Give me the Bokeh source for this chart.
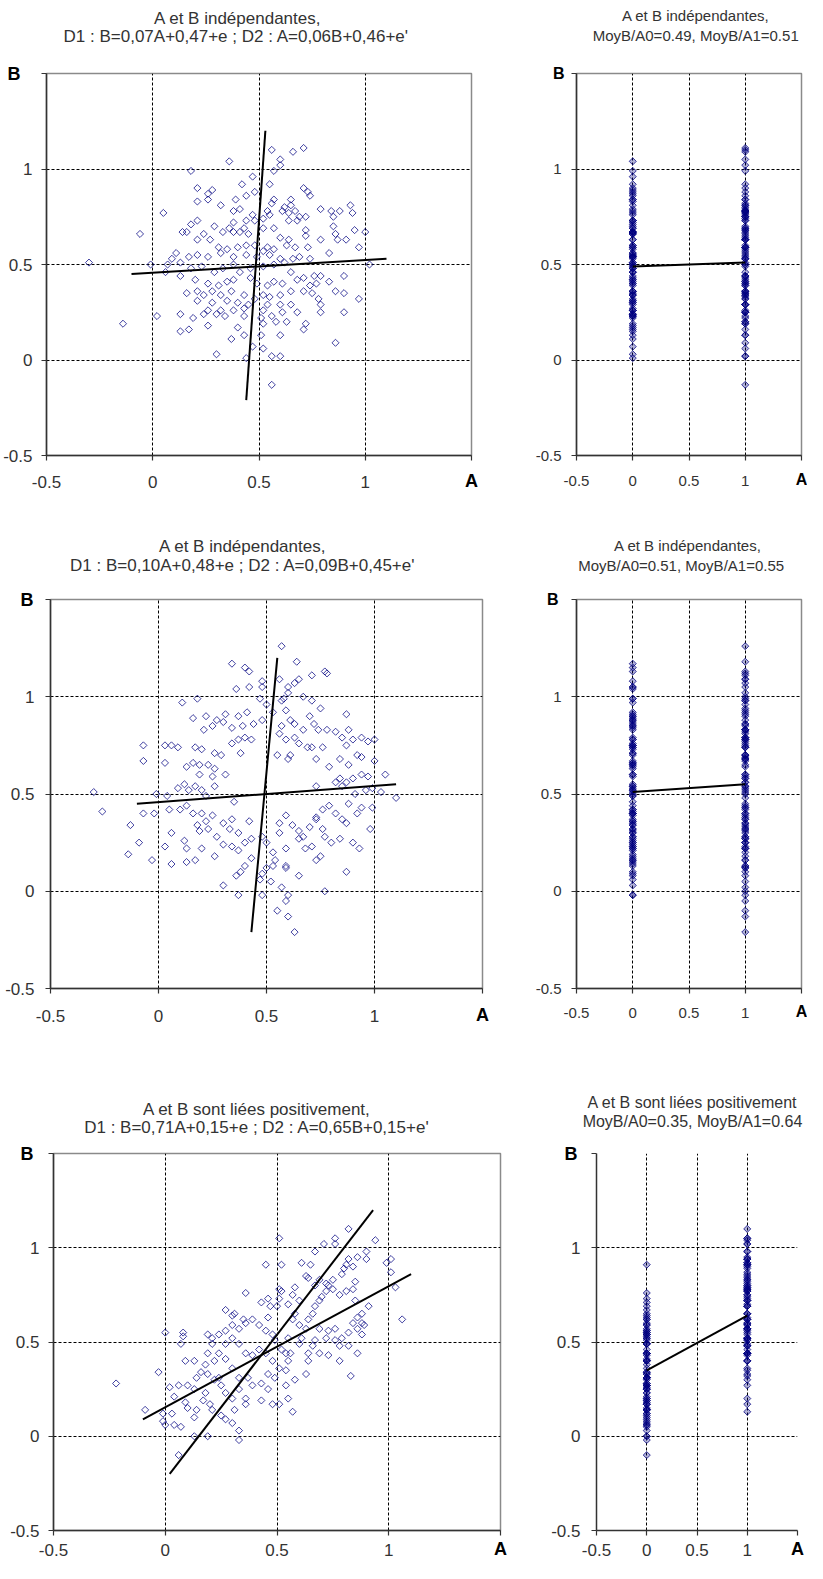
import numpy as np
from bokeh.plotting import figure
from bokeh.layouts import column, row
from bokeh.models import FixedTicker, LinearAxis
from bokeh.embed import file_html
from bokeh.resources import INLINE

FONT = "Liberation Sans"
TXT = "#333333"
NAVY = "#000080"

# ---------------- data ----------------
titles = [
    ["A et B indépendantes,", "D1 : B=0,07A+0,47+e ; D2 : A=0,06B+0,46+e'"],
    ["A et B indépendantes,", "MoyB/A0=0.49, MoyB/A1=0.51"],
    ["A et B indépendantes,", "D1 : B=0,10A+0,48+e ; D2 : A=0,09B+0,45+e'"],
    ["A et B indépendantes,", "MoyB/A0=0.51, MoyB/A1=0.55"],
    ["A et B sont liées positivement,", "D1 : B=0,71A+0,15+e ; D2 : A=0,65B+0,15+e'"],
    ["A et B sont liées positivement", "MoyB/A0=0.35, MoyB/A1=0.64"],
]
tick_values = [-0.5, 0, 0.5, 1, 1.5]
tick_labels = ["-0.5", "0", "0.5", "1", ""]
grid_values = [0, 0.5, 1]
x_name = "A"
y_name = "B"
split_at = 0.5   # the right-hand panels show the same B values with A coded 0 / 1

p1_a = [0.56,0.66,0.71,0.36,0.60,0.60,0.57,0.18,0.47,0.55,0.42,0.21,0.28,0.26,0.48,0.71,0.73,0.74,0.21,0.26,
        0.44,0.39,0.32,0.57,0.65,0.56,0.62,0.65,0.61,0.67,0.64,0.54,0.55,0.38,0.41,0.05,0.47,0.79,0.84,0.88,
        0.93,0.85,0.94,0.52,0.48,0.38,0.44,0.21,0.18,0.29,0.43,0.36,0.69,0.68,0.72,0.64,-0.06,0.14,0.16,0.24,
        0.21,0.33,0.38,0.41,0.45,0.52,0.57,0.60,0.64,0.72,0.72,0.85,0.86,0.87,0.91,0.95,1.00,0.97,0.27,0.31,
        0.35,0.40,0.44,0.48,0.54,0.57,0.63,0.67,0.73,0.79,0.83,0.74,0.69,0.60,0.55,0.52,0.49,0.44,0.38,0.32,
        0.26,0.21,0.17,0.11,0.09,0.07,0.13,-0.30,-0.01,0.06,0.13,0.18,0.23,0.29,0.33,0.38,0.41,0.46,0.52,0.57,
        0.62,0.66,0.65,0.68,0.71,0.76,0.79,0.83,0.90,1.02,0.20,0.26,0.31,0.35,0.38,0.46,0.49,0.54,0.57,0.61,
        0.74,0.77,0.16,0.21,0.24,0.28,0.32,0.37,0.43,0.48,0.52,0.55,0.60,0.65,0.71,0.75,0.86,0.90,0.97,0.21,
        0.28,0.35,0.40,0.45,0.54,0.60,0.65,0.78,0.79,0.26,0.32,0.38,0.43,0.52,0.61,0.68,0.79,0.90,-0.14,0.02,
        0.13,0.19,0.24,0.30,0.34,0.43,0.51,0.56,0.63,0.26,0.13,0.17,0.40,0.52,0.58,0.72,0.71,0.37,0.43,0.51,
        0.60,0.86,0.30,0.47,0.52,0.56,0.60,0.44,0.56]
p1_b = [1.10,1.09,1.11,1.04,1.05,1.02,0.99,0.99,0.96,0.92,0.92,0.90,0.89,0.87,0.88,0.90,0.88,0.86,0.83,0.84,
        0.86,0.84,0.81,0.84,0.84,0.82,0.80,0.81,0.78,0.78,0.77,0.78,0.76,0.78,0.79,0.77,0.76,0.79,0.78,0.78,
        0.81,0.75,0.77,0.74,0.73,0.72,0.73,0.73,0.71,0.70,0.69,0.69,0.75,0.73,0.75,0.73,0.66,0.67,0.67,0.66,
        0.63,0.67,0.67,0.67,0.66,0.69,0.69,0.64,0.63,0.68,0.65,0.70,0.66,0.63,0.63,0.68,0.67,0.59,0.63,0.59,
        0.58,0.59,0.60,0.60,0.59,0.58,0.60,0.59,0.59,0.63,0.56,0.53,0.54,0.53,0.55,0.57,0.54,0.55,0.54,0.56,
        0.54,0.55,0.54,0.56,0.53,0.50,0.51,0.51,0.50,0.46,0.44,0.48,0.49,0.46,0.48,0.50,0.46,0.48,0.49,0.50,
        0.51,0.53,0.46,0.42,0.43,0.44,0.44,0.41,0.44,0.50,0.42,0.40,0.39,0.41,0.42,0.43,0.40,0.39,0.41,0.40,
        0.39,0.40,0.35,0.36,0.34,0.36,0.34,0.36,0.34,0.32,0.34,0.33,0.34,0.36,0.36,0.35,0.36,0.35,0.32,0.31,
        0.30,0.31,0.30,0.29,0.29,0.29,0.29,0.32,0.29,0.26,0.26,0.26,0.27,0.26,0.25,0.25,0.25,0.25,0.19,0.23,
        0.24,0.22,0.24,0.24,0.23,0.23,0.22,0.23,0.20,0.18,0.15,0.16,0.17,0.19,0.20,0.19,0.16,0.11,0.13,0.13,
        0.13,0.09,0.03,0.07,0.06,0.02,0.02,0.01,-0.13]
p1_d1_a = [-0.10, 1.10]
p1_d1_b = [0.45, 0.53]
p1_d2_a = [0.44, 0.53]
p1_d2_b = [-0.21, 1.20]
p2_mean_a = [0, 1]
p2_mean_b = [0.49, 0.51]

p3_a = [0.57,0.64,0.34,0.40,0.42,0.77,0.78,0.71,0.65,0.48,0.48,0.36,0.42,0.56,0.60,0.63,0.60,0.67,0.58,0.57,
        0.50,0.47,0.18,0.11,0.71,0.75,0.59,0.53,0.41,0.37,0.31,0.27,0.22,0.16,0.48,0.44,0.39,0.34,0.30,0.25,
        0.21,0.61,0.63,0.67,0.72,0.74,0.70,0.87,0.88,0.57,0.56,0.59,0.63,0.65,0.69,0.71,0.76,0.78,0.82,0.85,
        0.87,0.90,0.94,1.00,0.97,-0.07,0.03,0.06,0.09,0.17,0.20,0.26,0.29,0.34,0.37,0.40,0.43,0.38,0.55,0.61,
        0.60,0.73,0.79,0.84,0.88,0.92,0.94,-0.07,0.03,0.13,0.16,0.19,0.23,0.26,0.31,0.19,0.25,1.00,1.05,0.84,
        0.87,0.90,0.94,0.97,0.73,0.82,0.85,0.91,0.96,0.99,1.03,1.10,-0.30,-0.01,0.04,0.09,0.12,0.14,0.17,0.20,
        0.22,0.26,0.35,-0.26,-0.13,-0.09,-0.14,-0.07,-0.02,0.05,0.10,0.13,0.16,0.20,0.25,0.30,0.34,0.42,0.33,
        0.37,0.43,0.22,0.18,0.19,0.23,0.27,0.06,0.12,0.13,0.03,-0.03,0.06,0.13,0.17,0.20,0.26,0.30,0.34,0.37,
        0.40,0.43,0.48,0.50,0.53,0.56,0.59,0.54,0.59,0.65,0.65,0.68,0.71,0.73,0.75,0.59,0.53,0.50,0.48,0.52,
        0.47,0.40,0.38,0.36,0.30,0.37,0.48,0.57,0.60,0.59,0.77,0.87,0.70,0.73,0.76,0.79,0.82,0.85,0.88,0.92,
        0.94,0.99,0.98,0.90,0.93,0.77,0.80,0.84,0.87,0.76,0.73,0.62,0.65,0.67,0.59,0.56,0.63,0.60,0.55]
p3_b = [1.26,1.18,1.17,1.15,1.13,1.13,1.12,1.11,1.09,1.08,1.05,1.04,1.05,1.09,1.05,1.07,1.02,1.00,0.99,0.98,
        0.96,0.99,0.99,0.97,0.98,0.94,0.93,0.92,0.92,0.90,0.91,0.88,0.90,0.89,0.88,0.86,0.85,0.84,0.87,0.85,
        0.83,0.88,0.86,0.83,0.86,0.83,0.90,0.91,0.83,0.85,0.81,0.78,0.79,0.76,0.74,0.74,0.74,0.83,0.82,0.79,
        0.75,0.78,0.79,0.78,0.77,0.75,0.75,0.75,0.74,0.74,0.73,0.71,0.70,0.76,0.78,0.79,0.78,0.71,0.70,0.70,
        0.68,0.68,0.64,0.68,0.65,0.70,0.69,0.67,0.66,0.64,0.66,0.65,0.65,0.63,0.60,0.60,0.59,0.67,0.60,0.58,
        0.56,0.58,0.60,0.59,0.54,0.56,0.54,0.50,0.52,0.53,0.51,0.48,0.51,0.50,0.49,0.53,0.55,0.52,0.54,0.52,
        0.49,0.54,0.46,0.41,0.34,0.25,0.19,0.40,0.40,0.42,0.42,0.44,0.40,0.40,0.39,0.35,0.37,0.36,0.32,0.30,
        0.27,0.36,0.34,0.31,0.32,0.28,0.30,0.26,0.22,0.23,0.16,0.14,0.15,0.16,0.22,0.18,0.24,0.23,0.21,0.25,
        0.17,0.28,0.25,0.20,0.30,0.22,0.16,0.13,0.08,0.27,0.22,0.23,0.16,0.18,0.12,0.13,0.12,0.09,0.05,0.06,
        0.13,0.10,0.08,0.03,-0.02,-0.02,0.02,-0.02,-0.05,0.00,0.10,0.33,0.38,0.42,0.44,0.40,0.37,0.45,0.40,
        0.43,0.43,0.32,0.25,0.22,0.28,0.25,0.27,0.35,0.32,0.37,0.34,0.31,0.28,0.39,0.35,-0.21,-0.13,-0.10]
p3_d1_a = [-0.10, 1.10]
p3_d1_b = [0.45, 0.55]
p3_d2_a = [0.43, 0.55]
p3_d2_b = [-0.21, 1.20]
p4_mean_a = [0, 1]
p4_mean_b = [0.51, 0.55]

p5_a = [-0.22,-0.09,-0.03,0.00,0.08,0.08,0.07,0.02,0.06,0.10,0.13,0.04,0.09,0.10,0.14,0.13,0.00,0.04,0.07,-0.01,
        0.03,-0.01,0.13,0.09,0.13,0.16,0.14,0.18,0.19,0.22,0.19,0.22,0.24,0.25,0.27,0.18,0.17,0.20,0.21,0.25,
        0.27,0.30,0.33,0.33,0.31,0.36,0.36,0.30,0.33,0.39,0.43,0.46,0.43,0.48,0.51,0.55,0.57,0.54,0.58,0.63,
        0.49,0.46,0.37,0.33,0.30,0.27,0.24,0.27,0.30,0.33,0.36,0.39,0.42,0.45,0.48,0.51,0.54,0.55,0.54,0.52,
        0.49,0.48,0.45,0.42,0.39,0.36,0.33,0.30,0.27,0.24,0.21,0.19,0.21,0.27,0.30,0.31,0.35,0.36,0.43,0.46,
        0.47,0.46,0.50,0.51,0.52,0.51,0.52,0.51,0.45,0.58,0.57,0.55,0.60,0.58,0.57,0.60,0.61,0.63,0.64,0.66,
        0.67,0.69,0.70,0.72,0.73,0.75,0.72,0.69,0.67,0.64,0.63,0.61,0.65,0.67,0.71,0.76,0.76,0.82,0.94,0.90,
        0.90,0.86,0.82,0.81,0.84,0.80,0.85,0.79,0.75,0.78,0.81,0.84,0.85,0.91,0.88,0.86,0.84,0.88,0.89,0.88,
        0.86,0.82,0.79,0.76,0.72,0.73,0.76,0.69,0.67,0.66,0.64,0.64,0.69,0.73,0.78,0.78,0.82,0.86,0.83,0.99,
        1.01,1.01,1.03,1.06,0.56,0.60,0.55,0.06,0.19]
p5_b = [0.28,0.14,0.34,0.55,0.55,0.53,0.49,0.26,0.27,0.27,0.25,0.21,0.18,0.15,0.14,0.10,0.06,0.06,0.05,0.12,
        0.12,0.08,0.00,0.40,0.40,0.34,0.31,0.38,0.44,0.40,0.33,0.30,0.31,0.27,0.23,0.23,0.19,0.17,0.14,0.11,
        0.09,0.07,0.03,-0.02,0.14,0.17,0.20,0.20,0.25,0.27,0.28,0.25,0.19,0.17,0.17,0.20,0.13,0.27,0.30,0.33,
        0.31,0.33,0.31,0.31,0.36,0.41,0.44,0.49,0.52,0.49,0.44,0.43,0.46,0.44,0.40,0.36,0.35,0.40,0.44,0.46,
        0.51,0.54,0.56,0.59,0.62,0.60,0.57,0.59,0.56,0.54,0.52,0.54,0.49,0.67,0.64,0.65,0.62,0.76,0.71,0.73,
        0.69,0.63,0.69,0.73,0.77,0.78,0.91,1.05,0.91,0.79,0.75,0.70,0.72,0.65,0.62,0.59,0.52,0.57,0.62,0.65,
        0.69,0.72,0.74,0.77,0.80,0.83,0.81,0.83,0.80,0.84,0.85,0.92,0.91,0.98,1.02,1.02,1.05,1.10,1.04,0.98,
        0.94,0.95,0.94,0.91,0.90,0.89,0.82,0.86,0.78,0.75,0.77,0.78,0.72,0.69,0.65,0.63,0.60,0.60,0.59,0.54,
        0.57,0.55,0.52,0.51,0.52,0.56,0.57,0.57,0.51,0.48,0.44,0.40,0.44,0.43,0.48,0.40,0.48,0.44,0.32,0.92,
        0.94,0.87,0.79,0.62,0.44,0.49,0.52,-0.10,0.00]
p5_d1_a = [-0.10, 1.10]
p5_d1_b = [0.09, 0.86]
p5_d2_a = [0.02, 0.93]
p5_d2_b = [-0.20, 1.20]
p6_mean_a = [0, 1]
p6_mean_b = [0.35, 0.64]


# ---------------- helpers ----------------
def bare_axis(ax):
    ax.axis_line_color = None
    ax.major_tick_line_color = None
    ax.minor_tick_line_color = None
    ax.major_tick_in = 0
    ax.major_tick_out = 0


def label_axis(p, side, where, text, standoff, size, bold=False, color=TXT):
    ax = LinearAxis(ticker=FixedTicker(ticks=[where]), major_label_overrides={where: text})
    bare_axis(ax)
    ax.major_label_standoff = standoff
    ax.major_label_text_font = FONT
    ax.major_label_text_font_size = f"{size}px"
    ax.major_label_text_font_style = "bold" if bold else "normal"
    ax.major_label_text_color = color
    p.add_layout(ax, side)
    return ax


def make_panel(w, h, left, right, top, bottom, fs, title, title_x, gap2, gap1,
               y_so, x_so, b_so, title_fs=None, outline=True):
    title_fs = title_fs or fs
    p = figure(width=w, height=h, x_range=(-0.5, 1.5), y_range=(-0.5, 1.5),
               output_backend="svg", toolbar_location=None, title=None,
               min_border_left=left, min_border_right=right,
               min_border_top=top, min_border_bottom=bottom)
    p.background_fill_color = "white"
    p.border_fill_color = "white"
    overrides = dict(zip(tick_values, tick_labels))
    for ax in (p.xaxis[0], p.yaxis[0]):
        ax.ticker = FixedTicker(ticks=tick_values)
        ax.major_label_overrides = overrides
        ax.axis_line_color = "#333333"
        ax.axis_line_width = 1.5
        ax.major_tick_line_color = "#333333"
        ax.major_tick_line_width = 1.2
        ax.major_tick_out = 5
        ax.major_tick_in = 0
        ax.minor_tick_line_color = None
        ax.major_label_text_font = FONT
        ax.major_label_text_font_size = f"{fs}px"
        ax.major_label_text_color = TXT
    p.xaxis[0].major_label_standoff = x_so
    p.yaxis[0].major_label_standoff = y_so
    gv = grid_values if outline else grid_values + [1.5]
    for g in (p.xgrid[0], p.ygrid[0]):
        g.ticker = FixedTicker(ticks=gv)
        g.grid_line_color = "black"
        g.grid_line_dash = "3 2"
        g.grid_line_width = 1
    if outline:
        p.outline_line_color = "#8a8a8a"
        p.outline_line_width = 1.5
    else:
        p.outline_line_color = None

    # axis names: "A" in the tick-label row at 1.5, "B" left of the axis at 1.5
    label_axis(p, "below", 1.5, x_name, -round(1.17 * fs), fs + 1, bold=True, color="black")
    label_axis(p, "left", 1.5, y_name, b_so, fs + 1, bold=True, color="black")

    # two-line title, stacked above the frame (second line nearest the frame)
    label_axis(p, "above", title_x[1], title[1], gap2, title_fs)
    label_axis(p, "above", title_x[0], title[0], gap1, title_fs)
    return p


def add_points(p, xs, ys, fill_alpha=0.0):
    p.scatter(xs, ys, marker="square", angle=np.pi / 4, size=5,
              fill_color=NAVY, fill_alpha=fill_alpha,
              line_color=NAVY, line_alpha=0.75, line_width=1)


def add_line(p, xs, ys):
    p.line(xs, ys, line_color="black", line_width=2)


def coded(a_vals, b_vals):
    xs = [0 if a < split_at else 1 for a in a_vals]
    return xs, list(b_vals)


# ---------------- panels ----------------
LW, RW = 532, 275

p1 = make_panel(LW, 517, 43, 61, 67, 62, 17, titles[0], (0.40, 0.393), 28, -4, 9, 15, -20)
add_points(p1, p1_a, p1_b)
add_line(p1, p1_d1_a, p1_d1_b)
add_line(p1, p1_d2_a, p1_d2_b)

p2 = make_panel(RW, 517, 37, 6, 73, 42, 15, titles[1], (0.56, 0.56), 30, 0, 10, 15, -32)
add_points(p2, *coded(p1_a, p1_b), fill_alpha=0.3)
add_line(p2, p2_mean_a, p2_mean_b)

p3 = make_panel(LW, 525, 50, 50, 81, 54, 17, titles[2], (0.39, 0.39), 25, -3, 11, 16, -31)
add_points(p3, p3_a, p3_b)
add_line(p3, p3_d1_a, p3_d1_b)
add_line(p3, p3_d2_a, p3_d2_b)

p4 = make_panel(RW, 525, 37, 6, 82, 49, 15, titles[3], (0.49, 0.43), 26, 0, 10, 14, -26)
add_points(p4, *coded(p3_a, p3_b), fill_alpha=0.3)
add_line(p4, p4_mean_a, p4_mean_b)

p5 = make_panel(LW, 521, 53, 32, 83, 33, 17, titles[4], (0.41, 0.41), 17, -4, 9, 8, -26)
add_points(p5, p5_a, p5_b)
add_line(p5, p5_d1_a, p5_d1_b)
add_line(p5, p5_d2_a, p5_d2_b)

p6 = make_panel(RW, 521, 64, 10, 111, 32, 17, titles[5], (0.455, 0.455), 24, -1, 11, 8, -29,
                title_fs=16, outline=False)
add_points(p6, *coded(p5_a, p5_b), fill_alpha=0.3)
add_line(p6, p6_mean_a, p6_mean_b)

layout = column(row(p1, p2), row(p3, p4), row(p5, p6))
open("out.html", "w").write(file_html(layout, INLINE))
